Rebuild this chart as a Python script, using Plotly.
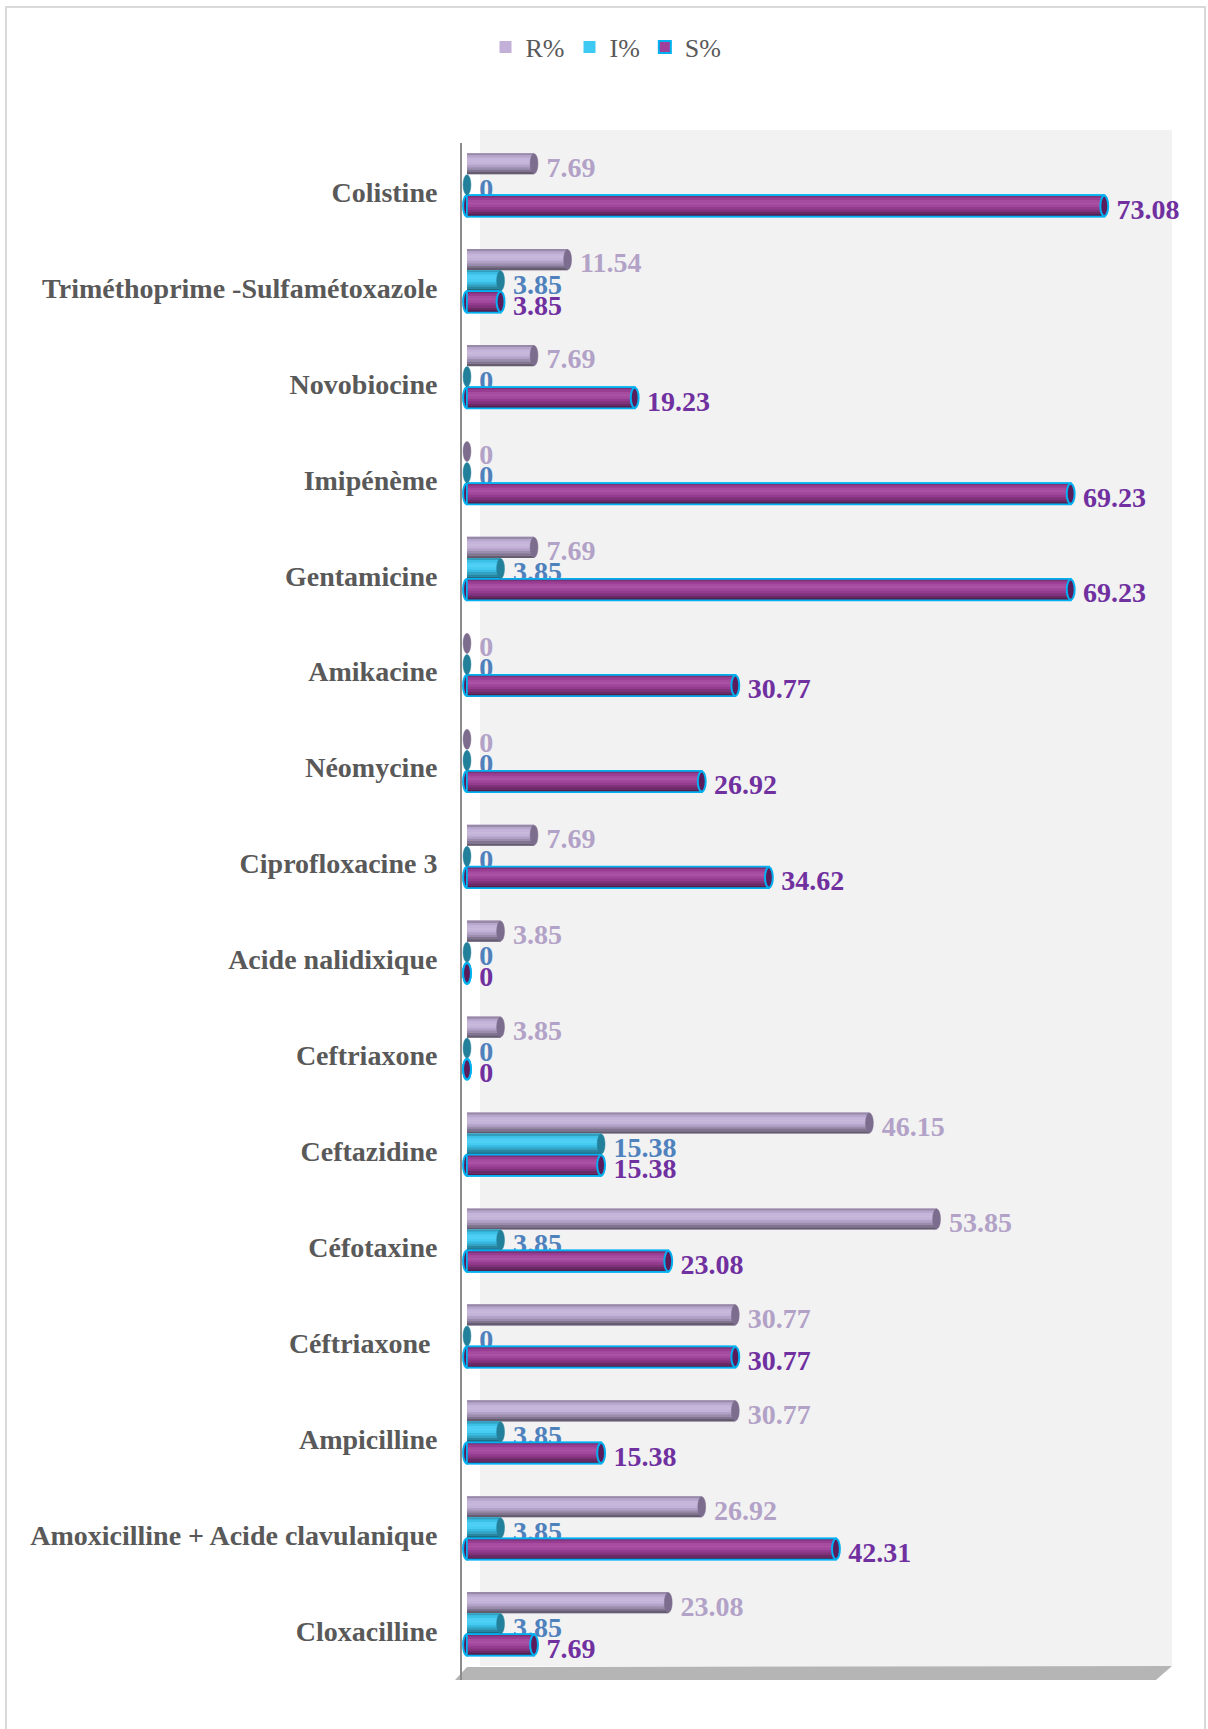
import plotly.graph_objects as go

# ---- data -------------------------------------------------------------
categories = [
    "Colistine",
    "Triméthoprime -Sulfamétoxazole",
    "Novobiocine",
    "Imipénème",
    "Gentamicine",
    "Amikacine",
    "Néomycine",
    "Ciprofloxacine 3",
    "Acide nalidixique",
    "Ceftriaxone",
    "Ceftazidine",
    "Céfotaxine",
    "Céftriaxone\u00a0",
    "Ampicilline",
    "Amoxicilline + Acide clavulanique",
    "Cloxacilline",
]
r_pct = [7.69, 11.54, 7.69, 0, 7.69, 0, 0, 7.69, 3.85, 3.85, 46.15, 53.85, 30.77, 30.77, 26.92, 23.08]
i_pct = [0, 3.85, 0, 0, 3.85, 0, 0, 0, 0, 0, 15.38, 3.85, 0, 3.85, 3.85, 3.85]
s_pct = [73.08, 3.85, 19.23, 69.23, 69.23, 30.77, 26.92, 34.62, 0, 0, 15.38, 23.08, 30.77, 15.38, 42.31, 7.69]
series_names = ["R%", "I%", "S%"]

# ---- geometry (pixels) ------------------------------------------------
W, H = 1208, 1729
PLOT_L, PLOT_R, PLOT_T, PLOT_B = 462, 1172, 143, 1680
ZERO_PX = 467          # where value 0 sits
PX_PER_UNIT = 8.72     # horizontal scale
CAT0_PX, CAT_STEP = 192, 95.93

x_lo = -(ZERO_PX - PLOT_L) / PX_PER_UNIT
x_hi = (PLOT_R - ZERO_PX) / PX_PER_UNIT
y_top = -(CAT0_PX - PLOT_T) / CAT_STEP
y_bot = y_top + (PLOT_B - PLOT_T) / CAT_STEP


def paper_x(px):
    return (px - PLOT_L) / (PLOT_R - PLOT_L)


def paper_y(py):
    return (PLOT_B - py) / (PLOT_B - PLOT_T)


def shade(hex_color, f):
    h = hex_color.lstrip("#")
    rgb = [int(h[i:i + 2], 16) for i in (0, 2, 4)]
    if f >= 1:
        rgb = [c + (255 - c) * (f - 1) for c in rgb]
    else:
        rgb = [c * f for c in rgb]
    return "rgb(%d,%d,%d)" % tuple(max(0, min(255, round(c))) for c in rgb)


def fmt(v):
    return ("%.2f" % v).rstrip("0").rstrip(".") if v else "0"


BAR_W = 0.22
LABEL_DROP = 0.035     # value labels sit slightly below the tube axis
LABEL_GAP = "\u00a0\u200a"
SHADE = [0.78, 0.95, 1.06, 1.10, 1.03, 0.92, 0.80, 0.66, 0.52]

styles = {
    "R%": dict(center=-0.295, base="#c2b0d8", cap="#7c6d8e", label="#b3a2c7", edge=None),
    "I%": dict(center=-0.075, base="#3fcaf3", cap="#23809b", label="#4f81bd", edge=None),
    "S%": dict(center=0.145, base="#a0409a", cap="#5a1c5a", label="#7030a0", edge="#00b0f0"),
}
values = {"R%": r_pct, "I%": i_pct, "S%": s_pct}
ypos = list(range(len(categories)))

fig = go.Figure()
shapes = []

# back wall and floor of the 3-D box
shapes.append(dict(type="rect", xref="paper", yref="paper", layer="below",
                   x0=paper_x(480), x1=paper_x(1172), y0=paper_y(1666), y1=paper_y(130),
                   fillcolor="#f2f2f2", line=dict(width=0)))
floor = "M %f %f L %f %f L %f %f L %f %f Z" % (
    paper_x(467), paper_y(1667), paper_x(1172), paper_y(1666),
    paper_x(1156), paper_y(1680), paper_x(455), paper_y(1680))
shapes.append(dict(type="path", xref="paper", yref="paper", layer="below",
                   path=floor, fillcolor="#b5b5b5", line=dict(width=0)))
# chart frame
shapes.append(dict(type="rect", xref="paper", yref="paper", layer="below",
                   x0=paper_x(6), x1=paper_x(1205), y0=paper_y(1745), y1=paper_y(7),
                   fillcolor="rgba(0,0,0,0)", line=dict(color="#d9d9d9", width=2)))

for name in series_names:
    st = styles[name]
    vals = values[name]
    top = st["center"] - BAR_W / 2

    # left rim of the tube (only the outlined series shows it)
    if st["edge"]:
        for y in ypos:
            shapes.append(dict(type="circle", xref="x", yref="y", layer="below",
                               x0=-0.45, x1=0.45, y0=y + top, y1=y + top + BAR_W,
                               fillcolor=st["cap"], line=dict(color=st["edge"], width=2)))

    # base bar, carries the legend entry
    fig.add_trace(go.Bar(
        name=name, x=vals, y=ypos, orientation="h",
        offset=top, width=BAR_W,
        marker=dict(color=st["base"],
                    line=dict(color=st["edge"] or st["base"], width=2 if st["edge"] else 0)),
        hoverinfo="skip", showlegend=True, legendgroup=name,
    ))

    # horizontal stripes give the cylinder shading
    n = len(SHADE)
    for k, f in enumerate(SHADE):
        fig.add_trace(go.Bar(
            x=vals, y=ypos, orientation="h",
            offset=top + k * BAR_W / n, width=BAR_W / n * 1.02,
            marker=dict(color=shade(st["base"], f), line=dict(width=0)),
            hoverinfo="skip", showlegend=False, legendgroup=name,
        ))

    # outline of the tube
    if st["edge"]:
        fig.add_trace(go.Bar(
            x=vals, y=ypos, orientation="h",
            offset=top, width=BAR_W,
            marker=dict(color="rgba(0,0,0,0)", line=dict(color=st["edge"], width=1.5)),
            hoverinfo="skip", showlegend=False, legendgroup=name,
        ))

    # value labels (carried by a transparent bar)
    fig.add_trace(go.Bar(
        x=vals, y=ypos, orientation="h",
        offset=top + LABEL_DROP, width=BAR_W,
        marker=dict(color="rgba(0,0,0,0)", line=dict(width=0)),
        text=[LABEL_GAP + fmt(v) for v in vals],
        textposition="outside", constraintext="none", cliponaxis=False,
        textfont=dict(family="Liberation Serif", size=28, color=st["label"], weight="bold"),
        hoverinfo="skip", showlegend=False, legendgroup=name,
    ))

    # right end caps
    for y, v in zip(ypos, vals):
        shapes.append(dict(type="circle", xref="x", yref="y", layer="above",
                           x0=v - 0.45, x1=v + 0.45, y0=y + top + 0.005, y1=y + top + BAR_W - 0.005,
                           fillcolor=st["cap"],
                           line=dict(color=st["edge"] or st["cap"], width=2 if st["edge"] else 0.5)))

fig.update_layout(
    width=W, height=H,
    margin=dict(l=PLOT_L, r=W - PLOT_R, t=PLOT_T, b=H - PLOT_B, pad=0),
    paper_bgcolor="white", plot_bgcolor="rgba(0,0,0,0)",
    barmode="overlay",
    shapes=shapes,
    showlegend=True,
    legend=dict(orientation="h", xref="container", yref="container",
                x=606 / W, xanchor="center", y=1 - 47 / H, yanchor="middle",
                font=dict(family="Liberation Serif", size=26, color="#595959"),
                bgcolor="rgba(0,0,0,0)", itemclick=False, itemdoubleclick=False),
    xaxis=dict(range=[x_lo, x_hi], visible=False, showgrid=False, zeroline=False, fixedrange=True),
    yaxis=dict(range=[y_bot, y_top], tickmode="array", tickvals=ypos, ticktext=categories,
               tickfont=dict(family="Liberation Serif", size=28, color="#595959", weight="bold"),
               ticks="", ticklabelstandoff=17, showline=True, linecolor="#8c8c8c", linewidth=2,
               showgrid=False, zeroline=False, fixedrange=True),
    hovermode=False,
)

fig.write_html("out.html", config={"displayModeBar": False})
